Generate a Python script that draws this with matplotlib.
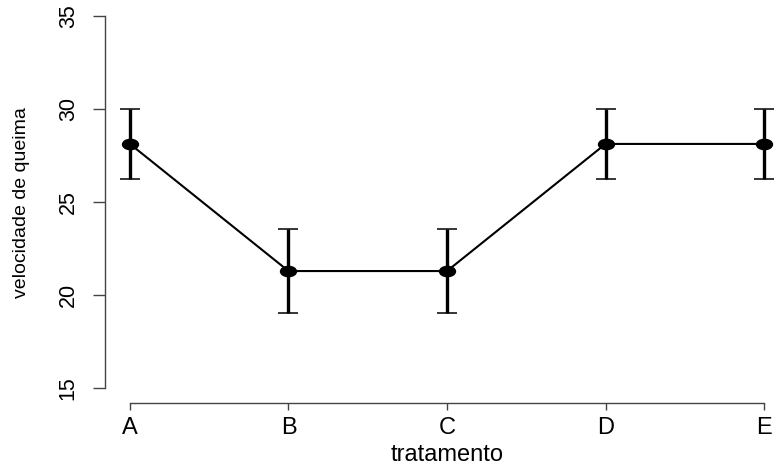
import numpy as np
import matplotlib.pyplot as plt
from matplotlib.path import Path
from matplotlib.transforms import Affine2D

plt.rcParams['font.family'] = ['Liberation Sans', 'DejaVu Sans']

tratamentos = ['A', 'B', 'C', 'D', 'E']  # treatments on the x axis
medias = [28.12, 21.29, 21.29, 28.12, 28.12]  # mean burning speed
erro = [1.86, 2.24, 2.24, 1.86, 1.86]  # half length of the error bars
y_ticks = [15, 20, 25, 30, 35]

fig = plt.figure(figsize=(7.74, 4.65), dpi=100)
ax = fig.add_axes([104.6 / 774, 62 / 465, 684.8 / 774, 402 / 465])

# wide ellipse marker (the reference is stretched sideways)
oval = Path.unit_circle().transformed(Affine2D().scale(1.55, 1.0))

pos = np.arange(1, len(tratamentos) + 1)
ax.errorbar(pos, medias, yerr=erro, fmt='none', ecolor='black',
            elinewidth=2.4, capsize=7.2, capthick=1.1)
ax.plot(pos, medias, color='black', linewidth=1.5, marker=oval,
        markersize=11.5, markerfacecolor='black', markeredgecolor='black')

ax.set_xlim(0.84, 5.16)
ax.set_ylim(14.2, 35.8)

for s in ['top', 'right']:
    ax.spines[s].set_visible(False)
ax.spines['left'].set_bounds(15, 35)
ax.spines['bottom'].set_bounds(1, 5)
for s in ['left', 'bottom']:
    ax.spines[s].set_color('#444444')
    ax.spines[s].set_linewidth(1.0)

ax.set_xticks(pos)
ax.set_xticklabels(tratamentos)
ax.set_yticks(y_ticks)
ax.set_yticklabels([str(v) for v in y_ticks], rotation=90, va='center')
ax.tick_params(axis='x', length=5, width=1.0, color='#444444', pad=5, labelsize=17)
ax.tick_params(axis='y', length=8.6, width=1.0, color='#444444', pad=10, labelsize=15.5)

fig.text(447.5 / 774, 1 - 455 / 465, 'tratamento', ha='center', va='center', fontsize=17)
fig.text(22 / 774, 1 - 202.5 / 465, 'velocidade de queima', ha='center', va='center',
         rotation=90, fontsize=14)

fig.savefig('out.png', dpi=100)
